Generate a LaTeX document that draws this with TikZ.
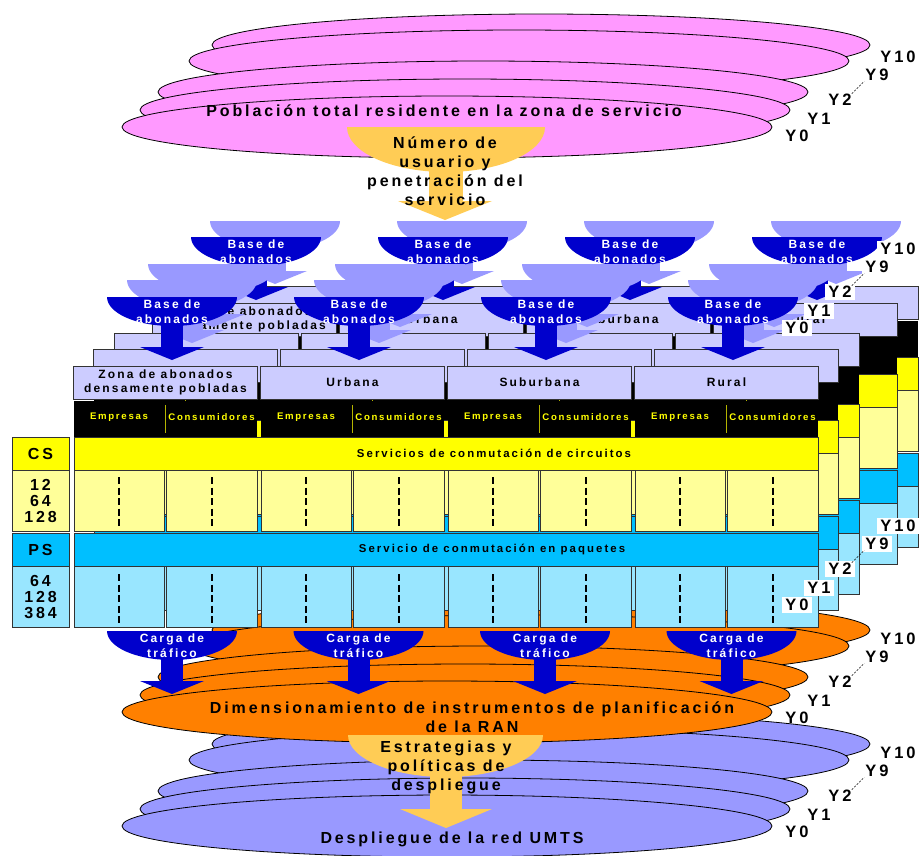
\documentclass[tikz,border=0pt]{standalone}
\usepackage{fontspec}
\setmainfont{Liberation Sans}[LetterSpace=18]
\definecolor{pinkE}{HTML}{FF99FF}
\definecolor{orangeE}{HTML}{FF8000}
\definecolor{purpE}{HTML}{9999FF}
\definecolor{goldA}{HTML}{FFCC55}
\definecolor{darkB}{HTML}{0000CC}
\definecolor{lightB}{HTML}{9999FF}
\definecolor{lav}{HTML}{CCCCFF}
\definecolor{yel}{HTML}{FFFF00}
\definecolor{lyel}{HTML}{FFFF99}
\definecolor{cyanB}{HTML}{00BFFF}
\definecolor{lcyan}{HTML}{99E6FF}
\definecolor{olive}{HTML}{B4B400}

\newcommand{\tlayer}[2]{%
  \foreach \i in {0,1,2,3}{%
    \pgfmathsetmacro\gx{74+187*\i+#1}%
    \draw[cellb,fill=lav] (\gx-1,366+#2) rectangle (\gx+183,399+#2);
    \fill[black] (\gx,401+#2) rectangle (\gx+183,437+#2);
    \draw[sepl] (\gx+91,405+#2) -- (\gx+91,433+#2);
  }
  \draw[cellb,fill=yel] (74+#1,437+#2) rectangle (818+#1,470+#2);
  \draw[cellb,fill=cyanB] (74+#1,533+#2) rectangle (818+#1,566+#2);
  \foreach \i in {0,1,2,3}{%
    \foreach \a/\b in {0/90.5,92/183}{%
      \pgfmathsetmacro\xl{74+187*\i+#1+\a}%
      \pgfmathsetmacro\xr{74+187*\i+#1+\b}%
      \pgfmathsetmacro\xm{round((\xl+\xr)/2)}%
      \draw[cellb,fill=lyel] (\xl,470+#2) rectangle (\xr,531+#2);
      \draw[dashl] (\xm,477+#2) -- (\xm,527+#2);
      \draw[cellb,fill=lcyan] (\xl,566+#2) rectangle (\xr,627+#2);
      \draw[dashl] (\xm,574+#2) -- (\xm,623+#2);
    }
  }
}

\newcommand{\barrow}[3]{%
  \fill[#3] (#1-65,#2) arc[start angle=180,end angle=0,x radius=65,y radius=29] -- cycle;
  \fill[#3] (#1-11,#2+20) rectangle (#1+11,#2+51);
  \fill[#3] (#1-32,#2+50) -- (#1+32,#2+50) -- (#1,#2+63) -- cycle;
}

\newcommand{\ylabs}[3]{%
  \node[ylab,#3] (#1a) at (898,57+#2) {Y10};
  \node[ylab,#3] (#1b) at (877,75+#2) {Y9};
  \node[ylab,#3] (#1c) at (840,100+#2) {Y2};
  \node[ylab,#3] (#1d) at (819,119+#2) {Y1};
  \node[ylab,#3] (#1e) at (797,136+#2) {Y0};
  \draw[line width=0.5pt,dash pattern=on 2pt off 1.5pt] ([xshift=-3pt,yshift=-2pt]#1c.north east) -- ([xshift=2pt,yshift=2pt]#1b.south west);
}

\begin{document}
\begin{tikzpicture}[x=1pt,y=-1pt,
  ell/.style={draw=black,line width=0.8pt},
  cellb/.style={draw=black!80,line width=0.8pt},
  sepl/.style={draw=olive,line width=1pt},
  dashl/.style={draw=black,line width=1.8pt,dash pattern=on 7pt off 3.5pt},
  big/.style={font=\fontsize{16}{19}\selectfont\bfseries,align=center,inner sep=0pt},
  med/.style={font=\fontsize{12}{14.5}\selectfont\bfseries,align=center,inner sep=0pt},
  medw/.style={med,text=white},
  band/.style={font=\fontsize{11.4}{13}\selectfont\bfseries,inner sep=0pt},
  small/.style={font=\fontsize{9.6}{11}\selectfont\bfseries,text=yel,inner sep=0pt},
  ylab/.style={font=\fontsize{16.5}{19}\selectfont\bfseries,text height=11.8pt,text depth=0pt,inner xsep=3pt,inner ysep=2.2pt},
  wl/.style={fill=white},
  lbox/.style={draw=black!80,line width=0.8pt,minimum width=57pt,font=\fontsize{16}{16}\selectfont\bfseries,align=center,inner sep=0pt}
]
\useasboundingbox (0,0) rectangle (920,855);

% purple ellipses
\foreach \cx/\cy/\rx in {541/45/329,519/61/330,483/92/325,465/110/325,447/127/325}
  \draw[ell,fill=purpE] (\cx,\cy+699) ellipse[x radius=\rx,y radius=31];
% orange ellipses
\foreach \cx/\cy/\rx in {541/45/329,519/61/330,483/92/325,465/110/325,447/127/325}
  \draw[ell,fill=orangeE] (\cx,\cy+585) ellipse[x radius=\rx,y radius=31];
% pink ellipses
\foreach \cx/\cy/\rx in {541/45/329,519/61/330,483/92/325,465/110/325,447/127/325}
  \draw[ell,fill=pinkE] (\cx,\cy) ellipse[x radius=\rx,y radius=31];

% yellow arrow 2
\fill[goldA] (348,735) arc[start angle=180,end angle=0,x radius=97.5,y radius=42] -- cycle;
\fill[goldA] (430,760) rectangle (462,810);
\fill[goldA] (400,809) -- (492,809) -- (446,828) -- cycle;

% table layers
\tlayer{100}{-80}
\tlayer{79}{-63}
\foreach \i/\txt in {0/{Zona de abonados\\densamente pobladas},1/Urbana,2/Suburbana,3/Rural}
  \node[med] (zz\i) at ({244.5+187*\i},319.5) {\txt};
\tlayer{41}{-33}
\tlayer{20}{-17}
\tlayer{0}{0}
\foreach \i/\txt in {0/{Zona de abonados\\densamente pobladas},1/Urbana,2/Suburbana,3/Rural}
  \node[med] (z\i) at ({165.5+187*\i},382.5) {\txt};
\foreach \i in {0,1,2,3}{
  \node[small] (e\i) at ({119+187*\i},417) {Empresas};
  \node[small] (k\i) at ({211.5+187*\i},417) {Consumidores};
}
\node[band] (cst) at (494,453.5) {Servicios de conmutación de circuitos};
\node[band] (pst) at (492,549.5) {Servicio de conmutación en paquetes};
\node[lbox,fill=yel,minimum height=33pt] (cs) at (40.5,453.5) {CS};
\node[lbox,fill=lyel,minimum height=61pt] (csn) at (40.5,500.5) {12\\64\\128};
\node[lbox,fill=cyanB,minimum height=33pt] (ps) at (40.5,549.5) {PS};
\node[lbox,fill=lcyan,minimum height=61pt] (psn) at (40.5,596.5) {64\\128\\384};

% base arrows
\foreach \dx/\dy/\col/\tx in {103/-76/lightB/0,84/-60/darkB/1,41/-33/lightB/0,20/-17/lightB/0,0/0/darkB/1}{
  \foreach \i in {0,1,2,3}{
    \pgfmathsetmacro\cxx{172+187*\i+\dx}
    \pgfmathsetmacro\ty{297+\dy}
    \barrow{\cxx}{\ty}{\col}
    \ifnum\tx=1 \node[medw] (b\i\dx) at (\cxx,\ty+14.5) {Base de\\abonados};\fi
  }
}

% carga arrows
\foreach \i in {0,1,2,3}{
  \pgfmathsetmacro\cxx{172+186.5*\i}
  \barrow{\cxx}{631}{darkB}
  \node[medw] (c\i) at (\cxx,645.5) {Carga de\\tráfico};
}

% yellow arrow 1
\fill[goldA] (347,127) arc[start angle=180,end angle=0,x radius=99,y radius=45] -- cycle;
\fill[goldA] (429,150) rectangle (463,202);
\fill[goldA] (398,201) -- (492,201) -- (445,220) -- cycle;

% texts
\node[big] (pob) at (444,111) {Población total residente en la zona de servicio};
\node[big] (num) at (445,171.5) {Número de\\usuario y\\penetración del\\servicio};
\node[big] (dim) at (472,717) {Dimensionamiento de instrumentos de planificación\\de la RAN};
\node[big] (est) at (446,767) {Estrategias y\\políticas de\\despliegue};
\node[big] (des) at (452,839) {Despliegue de la red UMTS};

% year labels
\ylabs{p}{0}{}
\ylabs{o}{582}{}
\ylabs{u}{696}{}
\ylabs{t}{469}{wl}
\ylabs{s}{192}{wl}
\end{tikzpicture}
\end{document}
